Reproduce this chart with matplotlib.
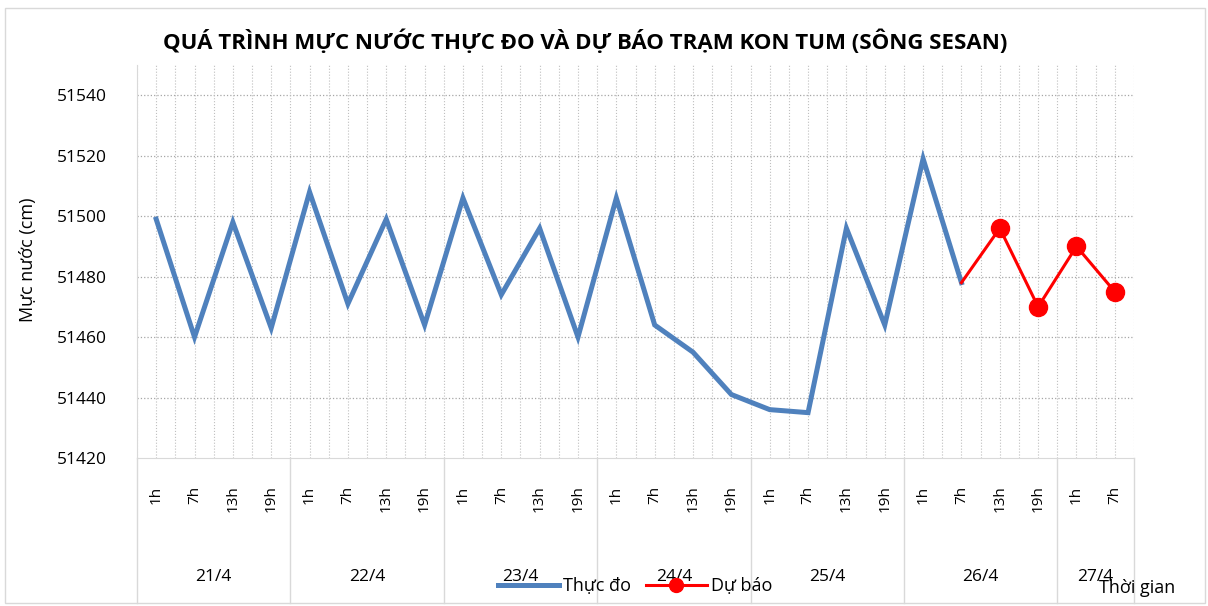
import numpy as np
import matplotlib
matplotlib.use("Agg")
import matplotlib.pyplot as plt
import matplotlib.transforms as mtransforms
from matplotlib.lines import Line2D
from matplotlib.patches import Rectangle

plt.rcParams['font.family'] = ['Open Sans', 'DejaVu Sans']

# Data
days = ["21/4", "22/4", "23/4", "24/4", "25/4", "26/4", "27/4"]
hours_per_day = [["1h", "7h", "13h", "19h"]] * 6 + [["1h", "7h"]]
observed = [51499, 51460, 51498, 51463,
            51508, 51471, 51499, 51464,
            51506, 51474, 51496, 51460,
            51506, 51464, 51455, 51441,
            51436, 51435, 51496, 51464,
            51519, 51478]
forecast = [51478, 51496, 51470, 51490, 51475]

hour_labels = [h for hs in hours_per_day for h in hs]
n = len(hour_labels)
x_obs = np.arange(len(observed))
x_fc = np.arange(len(observed) - 1, len(observed) - 1 + len(forecast))

W, H = 1208, 606
fig = plt.figure(figsize=(W / 100, H / 100), dpi=100)
ax = fig.add_axes([137 / W, 1 - 458 / H, (1134 - 137) / W, (458 - 65) / H])

# outer frame
fig.patches.append(Rectangle((5 / W, 3 / H), 1200 / W, 595 / H, transform=fig.transFigure,
                             fill=False, edgecolor='#d9d9d9', linewidth=1.0))

ax.set_xlim(-0.5, n - 0.5)
ax.set_ylim(51420, 51550)
ax.set_yticks(np.arange(51420, 51541, 20))
ax.tick_params(axis='y', length=0, labelsize=12.5, pad=22)
ax.set_xticks([])

# gridlines
for v in np.arange(51440, 51541, 20):
    ax.axhline(v, color='#a6a6a6', linestyle=':', linewidth=0.9, zorder=0)
for k in np.arange(0, n + 0.01, 0.5):
    ax.axvline(k - 0.5, color='#bfbfbf', linestyle=':', linewidth=0.8, zorder=0)

for s in ['top', 'right']:
    ax.spines[s].set_visible(False)
ax.spines['left'].set_color('#d9d9d9')
ax.spines['bottom'].set_color('#d9d9d9')

# series
ax.plot(x_obs, observed, color='#4f81bd', linewidth=3.6, solid_joinstyle='miter', zorder=3)
ax.plot(x_fc, forecast, color='#ff0000', linewidth=2.2, marker='o', markersize=13,
        markevery=list(range(1, len(forecast))), zorder=4)

# category axis labels
trans_ax = mtransforms.blended_transform_factory(ax.transData, ax.transAxes)
trans_fig = mtransforms.blended_transform_factory(ax.transData, fig.transFigure)
for i, h in enumerate(hour_labels):
    ax.text(i, -0.07, h, rotation=90, ha='center', va='top', fontsize=11,
            transform=trans_ax, clip_on=False)

pos = -0.5
for d, hs in zip(days, hours_per_day):
    ax.text(pos + len(hs) / 2, 1 - 577 / H, d, ha='center', va='center', fontsize=12.5,
            transform=trans_fig, clip_on=False)
    ax.add_line(Line2D([pos, pos], [3 / H, 1 - 458 / H], transform=trans_fig,
                       color='#d9d9d9', linewidth=1.0, clip_on=False))
    pos += len(hs)
ax.add_line(Line2D([pos, pos], [3 / H, 1 - 458 / H], transform=trans_fig,
                   color='#d9d9d9', linewidth=1.0, clip_on=False))

# titles
fig.text(585 / W, 1 - 42 / H, "QUÁ TRÌNH MỰC NƯỚC THỰC ĐO VÀ DỰ BÁO TRẠM KON TUM (SÔNG SESAN)",
         ha='center', va='center', fontsize=16, fontweight='bold')
fig.text(28 / W, 1 - 260 / H, "Mực nước (cm)", rotation=90, ha='center', va='center', fontsize=13)
fig.text(1137 / W, 1 - 588 / H, "Thời gian", ha='center', va='center', fontsize=13)

# legend
handles = [Line2D([], [], color='#4f81bd', linewidth=3.6),
           Line2D([], [], color='#ff0000', linewidth=2.2, marker='o', markersize=10)]
fig.legend(handles, ["Thực đo", "Dự báo"], loc='center', bbox_to_anchor=(635 / W, 1 - 586 / H),
           ncol=2, frameon=False, fontsize=13, handlelength=3.4, columnspacing=0.8,
           handletextpad=0.2)

fig.savefig("out.png", dpi=100)
